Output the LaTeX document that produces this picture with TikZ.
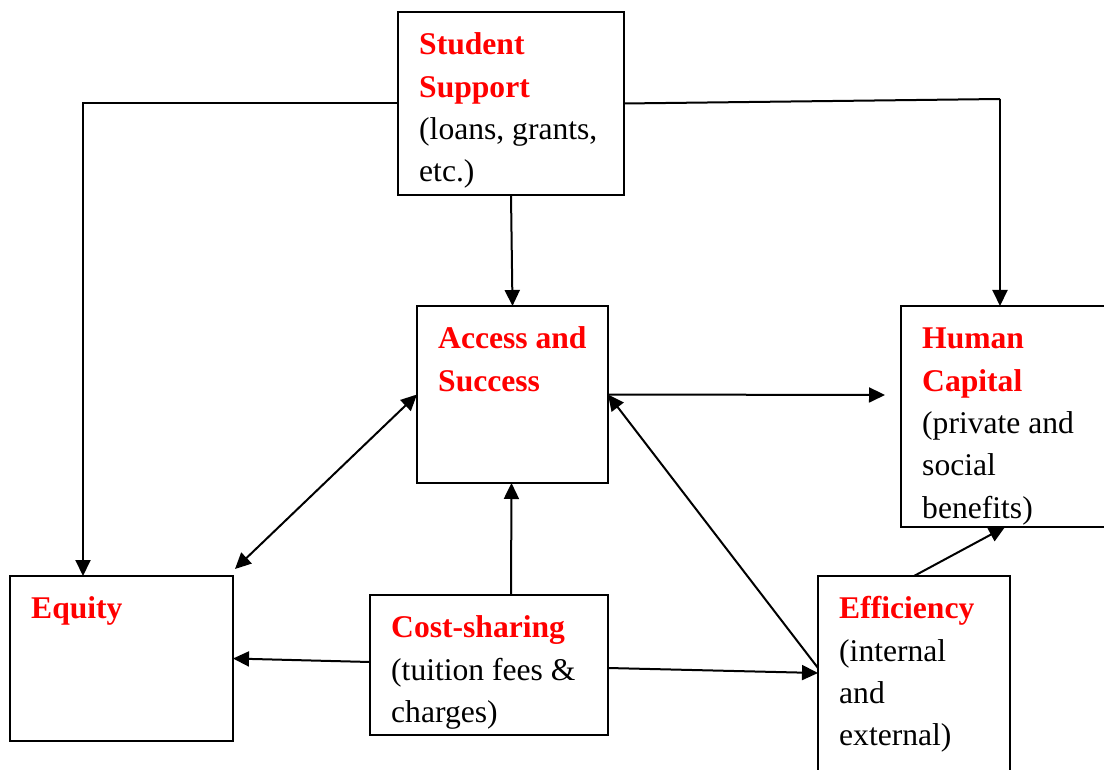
\documentclass[tikz,border=0pt]{standalone}
\usepackage{fontspec}
\setmainfont{Liberation Serif}
\usetikzlibrary{arrows.meta}
\definecolor{hd}{RGB}{255,0,0}
\tikzset{
  box/.style={draw=black, line width=2pt, rectangle, anchor=north west, inner sep=0pt, outer sep=0pt},
  txt/.style={anchor=north west, inner sep=0pt, align=left, font=\fontsize{31.6}{42.3}\selectfont},
  arr/.style={line width=2pt, -{Triangle[length=16pt,width=15pt]}},
  darr/.style={line width=2pt, {Triangle[length=16pt,width=15pt]}-{Triangle[length=16pt,width=15pt]}},
  ln/.style={line width=2pt}
}
\newcommand{\hdtext}[1]{\textcolor{hd}{\textbf{#1}}}
\begin{document}
\begin{tikzpicture}[x=1pt,y=-1pt]
\useasboundingbox (0,0) rectangle (1104,770);
\clip (0,0) rectangle (1104,770);
\fill[white] (0,0) rectangle (1104,770);
% boxes
\node[box, minimum width=226pt, minimum height=183pt] (ss) at (398,12) {};
\node[box, minimum width=191pt, minimum height=177pt] (as) at (417,306) {};
\node[box, minimum width=230pt, minimum height=221pt] (hc) at (901,306) {};
\node[box, minimum width=223pt, minimum height=165pt] (eq) at (10,576) {};
\node[box, minimum width=238pt, minimum height=140pt] (cs) at (370,595) {};
\node[box, minimum width=192pt, minimum height=230pt] (ef) at (818,576) {};
% texts
\node[txt] (sst) at ([shift={(21,13)}]ss.north west) {\strut\hdtext{Student}\\\hdtext{Support}\\(loans, grants,\\etc.)};
\node[txt] (ast) at ([shift={(21,13)}]as.north west) {\strut\hdtext{Access and}\\\hdtext{Success}};
\node[txt] (hct) at ([shift={(21,13)}]hc.north west) {\strut\hdtext{Human}\\\hdtext{Capital}\\(private and\\social\\benefits)};
\node[txt] (eqt) at ([shift={(21,13)}]eq.north west) {\strut\hdtext{Equity}};
\node[txt] (cst) at ([shift={(21,13)}]cs.north west) {\strut\hdtext{Cost-sharing}\\(tuition fees \&\\charges)};
\node[txt] (eft) at ([shift={(21,13)}]ef.north west) {\strut\hdtext{Efficiency}\\(internal\\and\\external)};
% coordinates
\coordinate (c1) at (1000,99);
\coordinate (c2) at (885,395);
% connectors
\draw[arr] (ss.west) -| ([xshift=73pt]eq.north west);
\draw[ln] (ss.east) -- (c1);
\draw[arr] (c1) -- ([xshift=99pt]hc.north west);
\draw[arr] (ss.south) -- (as.north);
\draw[arr] (as.east) -- (c2);
\draw[darr] ([shift={(2,-7)}]eq.north east) -- (as.west);
\draw[arr] ([shift={(0,92)}]ef.north west) -- (as.east);
\draw[arr] ([xshift=141pt]cs.north west) -- ([xshift=-1pt]as.south);
\draw[arr] ([shift={(0,-3)}]cs.west) -- (eq.east);
\draw[arr] ([shift={(0,3)}]cs.east) -- ([shift={(0,97)}]ef.north west);
\draw[arr] ([xshift=96pt]ef.north west) -- ([xshift=104pt]hc.south west);
\end{tikzpicture}
\end{document}
